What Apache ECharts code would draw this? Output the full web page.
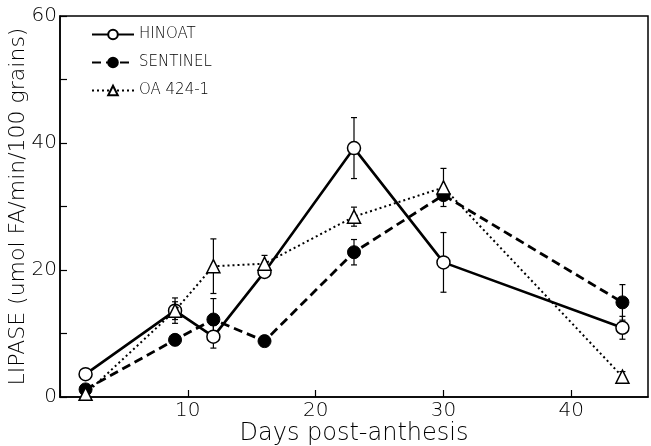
<!DOCTYPE html>
<html>
<head>
<meta charset="utf-8">
<script src="https://cdn.jsdelivr.net/npm/echarts@6/dist/echarts.min.js"></script>
<style>
  html, body { margin: 0; padding: 0; background: #fff; }
  #chart { width: 651px; height: 446px; }
</style>
</head>
<body>
<div id="chart"></div>
<script>
// days post-anthesis
const days = [2, 9, 12, 16, 23, 30, 44];
// lipase values (umol FA/min/100 grains)
const hinoat = [3.6, 13.6, 9.5, 19.7, 39.2, 21.2, 10.9];
const hinoatErr = [0, 2.0, 1.8, 0.8, 4.8, 4.7, 1.8];
const sentinel = [1.2, 9.0, 12.2, 8.8, 22.8, 31.8, 14.9];
const sentinelErr = [0, 0.8, 3.3, 0.8, 2.0, 0, 2.8];
const oa = [0.5, 13.6, 20.6, 21.0, 28.4, 33.0, 3.2];
const oaErr = [0, 1.4, 4.3, 1.3, 1.5, 3.0, 0.8];
// labelled ticks
const xLabels = [10, 20, 30, 40];
const yLabels = [0, 20, 40, 60];

const FONT = "DejaVu Sans";

function pairs(vals) {
  return days.map((d, i) => [d, vals[i]]);
}
function errData(vals, errs) {
  return days.map((d, i) => [d, vals[i] - errs[i], vals[i] + errs[i]]).filter((r, i) => errs[i] > 0);
}
// draw a vertical error bar with small caps
function renderErr(params, api) {
  const x = api.value(0);
  const lo = api.coord([x, api.value(1)]);
  const hi = api.coord([x, api.value(2)]);
  const cap = 3;
  const style = { stroke: "#000", lineWidth: 1.2 };
  return {
    type: "group",
    children: [
      { type: "line", shape: { x1: lo[0], y1: lo[1], x2: hi[0], y2: hi[1] }, style: style },
      { type: "line", shape: { x1: lo[0] - cap, y1: lo[1], x2: lo[0] + cap, y2: lo[1] }, style: style },
      { type: "line", shape: { x1: hi[0] - cap, y1: hi[1], x2: hi[0] + cap, y2: hi[1] }, style: style }
    ]
  };
}

const chart = echarts.init(document.getElementById("chart"));
chart.setOption({
  animation: false,
  backgroundColor: "#fff",
  grid: {
    left: 60, right: 3, top: 16, bottom: 49,
    containLabel: false, outerBoundsMode: "none",
    show: true, borderColor: "#000", borderWidth: 1.5
  },
  legend: {
    orient: "vertical",
    left: 86, top: 22,
    itemWidth: 42, itemHeight: 12, itemGap: 13,
    textStyle: { fontFamily: FONT, fontSize: 15, color: "#000", fontWeight: 200 },
    data: ["HINOAT", "SENTINEL", "OA 424-1"]
  },
  xAxis: {
    type: "value",
    min: 0, max: 46, interval: 10,
    name: "Days post-anthesis",
    nameLocation: "middle",
    nameGap: 25,
    nameMoveOverlap: false,
    nameTextStyle: { fontFamily: FONT, fontSize: 24, color: "#000", fontWeight: 200 },
    axisLine: { lineStyle: { color: "#000", width: 1.5 } },
    axisTick: { inside: true, length: 7, lineStyle: { color: "#000", width: 1.2 } },
    axisLabel: {
      fontFamily: FONT, fontSize: 20, color: "#000", fontWeight: 200, margin: 4,
      showMaxLabel: false,
      formatter: v => (xLabels.includes(v) ? v : "")
    },
    splitLine: { show: false }
  },
  yAxis: {
    type: "value",
    min: 0, max: 60, interval: 10,
    name: "LIPASE (umol FA/min/100 grains)",
    nameLocation: "middle",
    nameGap: 31,
    nameMoveOverlap: false,
    nameTextStyle: { fontFamily: FONT, fontSize: 22, color: "#000", fontWeight: 200 },
    axisLine: { lineStyle: { color: "#000", width: 1.5 } },
    axisTick: { inside: true, length: 7, lineStyle: { color: "#000", width: 1.2 } },
    axisLabel: {
      fontFamily: FONT, fontSize: 20, color: "#000", fontWeight: 200, margin: 3,
      formatter: v => (yLabels.includes(v) ? v : "")
    },
    splitLine: { show: false }
  },
  series: [
    {
      name: "HINOAT", type: "line", data: pairs(hinoat), z: 3,
      symbol: "circle", symbolSize: 13,
      lineStyle: { color: "#000", width: 2.6, type: "solid" },
      itemStyle: { color: "#fff", borderColor: "#000", borderWidth: 1.5 }
    },
    {
      name: "SENTINEL", type: "line", data: pairs(sentinel), z: 3,
      symbol: "circle", symbolSize: 13,
      lineStyle: { color: "#000", width: 2.8, type: [9, 5] },
      itemStyle: { color: "#000", borderColor: "#000", borderWidth: 1 }
    },
    {
      name: "OA 424-1", type: "line", data: pairs(oa), z: 4,
      symbol: "triangle", symbolSize: 13,
      lineStyle: { color: "#000", width: 2, type: [2, 3] },
      itemStyle: { color: "#fff", borderColor: "#000", borderWidth: 1.5 }
    },
    { type: "custom", renderItem: renderErr, data: errData(hinoat, hinoatErr), z: 1 },
    { type: "custom", renderItem: renderErr, data: errData(sentinel, sentinelErr), z: 1 },
    { type: "custom", renderItem: renderErr, data: errData(oa, oaErr), z: 1 }
  ]
});
</script>
</body>
</html>
